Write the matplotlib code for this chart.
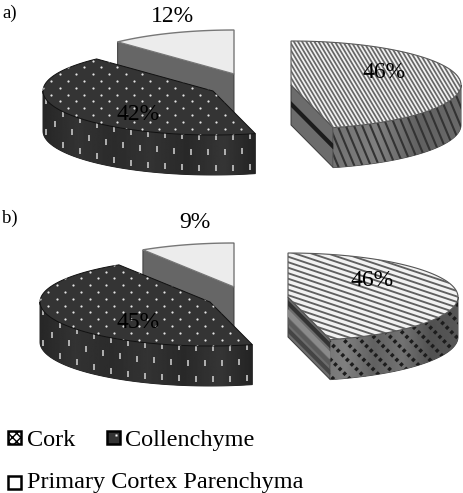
import numpy as np
import matplotlib
matplotlib.use("Agg")
import matplotlib.pyplot as plt
from matplotlib.patches import Polygon, Rectangle

plt.rcParams['font.family'] = ['Liberation Serif', 'DejaVu Serif']

categories = ["Cork", "Collenchyme", "Primary Cortex Parenchyma"]
values_a = [46, 42, 12]
values_b = [46, 45, 9]
labels_a = ["46%", "42%", "12%"]
labels_b = ["46%", "45%", "9%"]

# pixel layout: slice centres of the exploded pies, label centres
centres_a = [(291, 85), (213, 91), (234, 74)]
centres_b = [(288, 297), (210, 302), (234, 287)]
label_pos_a = [(384, 72), (138, 115), (172, 16)]
label_pos_b = [(372, 281), (138, 323), (195, 222)]
RX = 170
RY = 44
DEPTH = 40


def rim(c, t0, t1, n=120):
    t = np.radians(np.linspace(t0, t1, n))
    return np.column_stack([c[0] + RX*np.sin(t), c[1] - RY*np.cos(t)])


def fill(ax, pts, color, ec='#3a3a3a', lw=0.7, z=1):
    p = Polygon(pts, closed=True, fc=color, ec=ec, lw=lw, zorder=z)
    ax.add_patch(p)
    return p


def gradient(ax, patch, box, stops, z):
    # horizontal grey shading clipped to a side face
    row = np.interp(np.linspace(0, 1, 200), np.linspace(0, 1, len(stops)), stops)
    im = ax.imshow(row[None, :], extent=(box[0], box[1], box[3], box[2]), cmap='gray',
                   vmin=0, vmax=1, aspect='auto', zorder=z, interpolation='bilinear')
    im.set_clip_path(patch)


def stripes(ax, patch, box, dx, dy, step, color, lw, z, ls='-'):
    # parallel lines with direction (dx,dy), spaced along x, clipped to patch
    h = box[3]-box[2]
    reach = h*dx/dy
    for x0 in np.arange(box[0]-abs(reach)-step, box[1]+abs(reach)+step, step):
        ln, = ax.plot([x0, x0+reach], [box[2], box[3]], color=color, lw=lw, ls=ls, zorder=z)
        ln.set_clip_path(patch)


def dots(ax, patch, box, step_x, step_y, z):
    rows = np.arange(box[2], box[3], step_y)
    for i, y in enumerate(rows):
        xs = np.arange(box[0]+(i % 2)*step_x/2, box[1], step_x)
        ln, = ax.plot(xs, np.full(len(xs), y), ls='none', marker='o', ms=1.6, mfc='#e4e4e4',
                      mec='none', zorder=z)
        ln.set_clip_path(patch)


def side_dashes(ax, patch, c, z):
    # staggered rows that follow the rim, even spacing along x
    for off, shift in ((2, 0), (17, 8.5), (33, 0)):
        xs = np.arange(c[0]-RX+3+shift, c[0]+RX*0.26, 17)
        ys = c[1] + RY*np.sqrt(1-((xs-c[0])/RX)**2) + off
        ln, = ax.plot(xs, ys, ls='none', marker='|', ms=4.2, mew=1.1, mec='#d4d4d4', zorder=z)
        ln.set_clip_path(patch)


def draw_pie(ax, values, centres, labels, label_pos, panel):
    a1 = 360*values[0]/100
    a2 = a1 + 360*values[1]/100
    c0, c1, c2 = centres
    d = DEPTH

    # Primary cortex parenchyma, back slice
    e2 = rim(c2, a2, a2, 1)[0]
    fill(ax, [c2, e2, (e2[0], e2[1]+d), (c2[0], c2[1]+d)], '#666666', z=1)
    fill(ax, np.vstack([[c2], rim(c2, a2, 360)]), '#ececec', ec='#777777', lw=1.0, z=2)

    # Collenchyme
    arc = rim(c1, a1, 270)
    side = np.vstack([arc, (arc + [0, d])[::-1]])
    box1 = (c1[0]-RX-2, c1[0]+RX*0.26+2, c1[1]-RY, c1[1]+RY+d+2)
    s1 = fill(ax, side, '#2b2b2b', ec='#222222', z=3)
    gradient(ax, s1, box1, [0.15, 0.2, 0.17, 0.2, 0.16, 0.21, 0.13], 3.1)
    side_dashes(ax, s1, c1, 3.2)
    top1 = np.vstack([[c1], rim(c1, a1, a2)])
    t1 = fill(ax, top1, '#343434', ec='#111111', z=4)
    dots(ax, t1, (c1[0]-RX, c1[0]+RX*0.3, c1[1]-RY, c1[1]+RY+2), 16.5, 6.8, 4.1)

    # Cork, front wall then rim then top
    e0 = rim(c0, a1, a1, 1)[0]
    wall = fill(ax, [c0, e0, (e0[0], e0[1]+d), (c0[0], c0[1]+d)], '#6c6c6c', z=5)
    arc = rim(c0, 90, a1)[::-1]
    side = np.vstack([arc, (arc + [0, d])[::-1]])
    s0 = fill(ax, side, '#7a7a7a', ec='#444444', z=5)
    box0 = (c0[0], c0[0]+RX+2, c0[1]-RY, c0[1]+RY+d+2)
    top0 = fill(ax, np.vstack([[c0], rim(c0, 0, a1)]), '#f2f2f2', ec='#555555', lw=0.8, z=6)
    if panel == 'a':
        gradient(ax, s0, box0, [0.55, 0.45, 0.5, 0.38, 0.42], 5.1)
        stripes(ax, s0, box0, 0.42, 1, 8.2, '#333333', 1.5, 5.2)
        ln, = ax.plot([c0[0], e0[0]], [c0[1]+19, e0[1]+19], color='#1c1c1c', lw=3, zorder=5.2)
        ln.set_clip_path(wall)
        stripes(ax, top0, (c0[0]-5, c0[0]+RX+2, c0[1]-RY-2, c0[1]+RY+2), 0.6, 1, 4.1,
                '#666666', 1.25, 6.1)
    else:
        gradient(ax, s0, box0, [0.62, 0.45, 0.5, 0.38, 0.45, 0.32, 0.34], 5.1)
        stripes(ax, s0, box0, 1.0, 1, 16.5, '#1c1c1c', 2.6, 5.2, ls=(0, (0.9, 0.9)))
        for off, col, lw in ((6, '#333333', 3), (16, '#8a8a8a', 4), (24, '#5a5a5a', 3), (33, '#444444', 3)):
            ln, = ax.plot([c0[0], e0[0]], [c0[1]+off, e0[1]+off], color=col, lw=lw, zorder=5.2)
            ln.set_clip_path(wall)
        stripes(ax, top0, (c0[0]-5, c0[0]+RX+2, c0[1]-RY-2, c0[1]+RY+2), 3.0, 1, 16.5,
                '#606060', 1.35, 6.1)

    for txt, (x, y) in zip(labels, label_pos):
        ax.text(x, y, txt, fontsize=17, ha='center', va='center', color='black', zorder=10)


fig = plt.figure(figsize=(4.63, 4.93), dpi=100)
ax = fig.add_axes([0, 0, 1, 1])

draw_pie(ax, values_a, centres_a, labels_a, label_pos_a, 'a')
draw_pie(ax, values_b, centres_b, labels_b, label_pos_b, 'b')

ax.text(2, 13, "a)", fontsize=13.5, va='center', color='black')
ax.text(2, 218, "b)", fontsize=13.5, va='center', color='black')

# legend
ax.add_patch(Rectangle((8, 431), 13, 13, fc='white', ec='black', lw=1.8, hatch='xxxx', zorder=3))
ax.add_patch(Rectangle((107, 431), 13, 13, fc='#333333', ec='black', lw=1.8, zorder=3))
ax.plot([115.5], [435], ls='none', marker='s', ms=2, mfc='white', mec='none', zorder=4)
ax.add_patch(Rectangle((8, 476), 13, 13, fc='white', ec='black', lw=1.8, zorder=3))
ax.text(27, 446, categories[0], fontsize=17.5, va='baseline', color='black')
ax.text(125, 446, categories[1], fontsize=17.5, va='baseline', color='black')
ax.text(27, 488, categories[2], fontsize=17.5, va='baseline', color='black')

ax.set_xlim(0, 463)
ax.set_ylim(493, 0)
ax.axis('off')
fig.savefig("out.png", dpi=100)
